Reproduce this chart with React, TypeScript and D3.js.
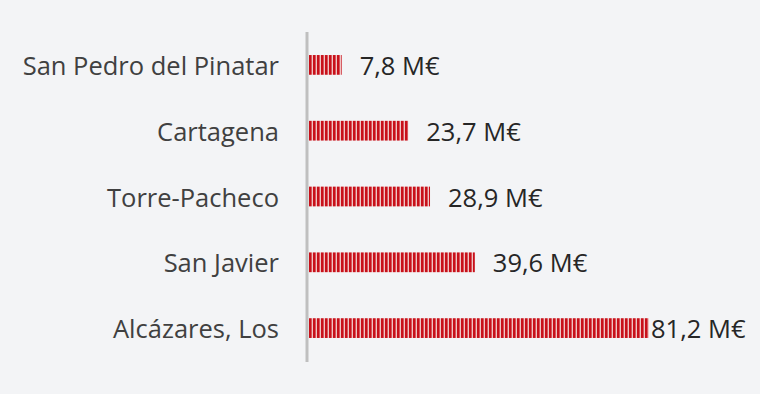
import * as d3 from "d3";

const categories = ["San Pedro del Pinatar", "Cartagena", "Torre-Pacheco", "San Javier", "Alcázares, Los"];
const values = [7.8, 23.7, 28.9, 39.6, 81.2];
const valueLabels = ["7,8 M€", "23,7 M€", "28,9 M€", "39,6 M€", "81,2 M€"];

const W = 760;
const H = 394;
const axisX = 307;
const barX0 = 309;
const FONT = "'Open Sans', sans-serif";

export default function App() {
  const x = d3.scaleLinear().domain([0, 81.2]).range([barX0, 649]);
  const y = d3.scaleBand<string>().domain(categories).range([32, 361]).paddingInner(0.7).paddingOuter(0.35);

  return (
    <svg width={W} height={H} style={{ position: "absolute", left: 0, top: 0, display: "block" }}>
      <defs>
        <pattern id="stripes" patternUnits="userSpaceOnUse" x={barX0} y={0} width={4} height={10}>
          <rect width={4} height={10} fill="#efc4c4" />
          <rect width={2.6} height={10} fill="#c8101a" />
        </pattern>
      </defs>
      <rect width={W} height={H} fill="#f3f4f6" />
      {categories.map((c, i) => {
        const yy = y(c)!;
        const bw = y.bandwidth();
        const end = x(values[i]);
        const lx = i === categories.length - 1 ? end + 2 : end + 18;
        return (
          <g key={c}>
            <rect x={barX0} y={yy} width={end - barX0} height={bw} fill="url(#stripes)" />
            <text x={279} y={yy + bw / 2} textAnchor="end" dominantBaseline="central"
              fontFamily={FONT} fontSize={25.5} fill="#404040">{c}</text>
            <text x={lx} y={yy + bw / 2} dominantBaseline="central"
              fontFamily={FONT} fontSize={25.5} fill="#262626">{valueLabels[i]}</text>
          </g>
        );
      })}
      <line x1={axisX} x2={axisX} y1={32} y2={362} stroke="#bfbfbf" strokeWidth={3} />
    </svg>
  );
}
